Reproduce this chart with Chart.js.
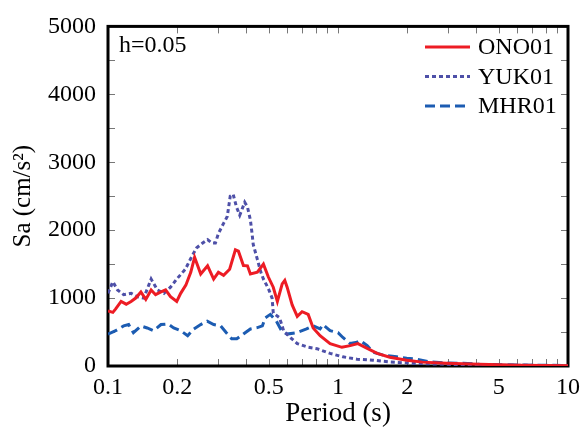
<!DOCTYPE html>
<html>
<head>
<meta charset="utf-8">
<script src="https://cdn.jsdelivr.net/npm/chart.js@4"></script>
<style>
  html, body { margin: 0; padding: 0; background: #fff; }
  #wrap { width: 587px; height: 430px; }
</style>
</head>
<body>
<div id="wrap"><canvas id="spectrum" width="587" height="430"></canvas></div>
<script>
// response spectra
const onoPeriod = [0.100, 0.105, 0.108, 0.114, 0.120, 0.126, 0.132, 0.139, 0.146, 0.154, 0.161, 0.170, 0.178, 0.187, 0.199, 0.207, 0.218, 0.229, 0.238, 0.253, 0.271, 0.288, 0.302, 0.318, 0.338, 0.358, 0.369, 0.388, 0.404, 0.416, 0.446, 0.474, 0.498, 0.523, 0.545, 0.572, 0.587, 0.601, 0.632, 0.665, 0.698, 0.742, 0.780, 0.836, 0.924, 1.04, 1.13, 1.22, 1.34, 1.48, 1.68, 1.99, 2.33, 2.96, 4.12, 6.1, 10];
const onoSa = [810, 790, 840, 950, 910, 950, 1000, 1090, 980, 1120, 1050, 1090, 1120, 1020, 950, 1070, 1190, 1380, 1600, 1355, 1475, 1280, 1380, 1335, 1425, 1710, 1690, 1480, 1475, 1355, 1380, 1500, 1310, 1160, 950, 1210, 1260, 1160, 900, 730, 800, 760, 560, 445, 330, 275, 300, 330, 260, 185, 130, 85, 57, 40, 25, 12, 5];

const yukPeriod = [0.100, 0.105, 0.110, 0.117, 0.126, 0.134, 0.143, 0.154, 0.164, 0.175, 0.187, 0.199, 0.217, 0.232, 0.243, 0.258, 0.271, 0.283, 0.293, 0.302, 0.318, 0.330, 0.340, 0.350, 0.362, 0.374, 0.393, 0.404, 0.416, 0.423, 0.428, 0.446, 0.462, 0.474, 0.498, 0.517, 0.523, 0.557, 0.580, 0.620, 0.665, 0.735, 0.81, 0.924, 1.05, 1.21, 1.42, 1.68, 2.11, 2.96, 4.12, 10];
const yukSa = [1070, 1240, 1120, 1050, 1070, 1020, 1000, 1280, 1120, 1070, 1160, 1280, 1425, 1620, 1740, 1810, 1860, 1810, 1810, 1950, 2100, 2200, 2500, 2530, 2340, 2220, 2410, 2340, 2150, 1950, 1790, 1570, 1380, 1280, 1140, 1000, 780, 710, 520, 420, 330, 280, 255, 185, 135, 100, 85, 60, 40, 25, 15, 5];

const mhrPeriod = [0.100, 0.108, 0.117, 0.123, 0.129, 0.139, 0.148, 0.158, 0.170, 0.182, 0.193, 0.207, 0.222, 0.236, 0.253, 0.270, 0.288, 0.309, 0.327, 0.345, 0.363, 0.388, 0.416, 0.446, 0.469, 0.483, 0.508, 0.540, 0.568, 0.600, 0.66, 0.73, 0.78, 0.836, 0.86, 0.924, 1.00, 1.05, 1.13, 1.21, 1.25, 1.34, 1.42, 1.57, 1.80, 1.99, 2.2, 2.5, 2.96, 3.5, 4.12, 6, 10];
const mhrSa = [470, 520, 590, 610, 490, 590, 560, 520, 610, 620, 560, 520, 445, 545, 610, 660, 610, 590, 490, 400, 400, 470, 545, 565, 590, 710, 760, 660, 520, 470, 490, 545, 590, 545, 610, 520, 490, 420, 330, 350, 375, 300, 205, 160, 135, 115, 100, 60, 45, 40, 25, 15, 8];

const seriesNames = ['ONO01', 'YUK01', 'MHR01'];
const xTickLabels = [0.1, 0.2, 0.5, 1, 2, 5, 10];
const yTickLabels = [0, 1000, 2000, 3000, 4000, 5000];
const dampingText = 'h=0.05';

const serif = "'Liberation Serif', 'DejaVu Serif', serif";

function toPoints(px, py) {
    let pts = [];
    for (let i = 0; i < px.length; i++) {
        pts.push({ x: px[i], y: py[i] });
    }
    return pts;
}

function minorLogTicks() {
    let t = [];
    for (let d = 0.1; d < 10; d *= 10) {
        for (let k = 1; k < 10; k++) {
            t.push(+(k * d).toPrecision(3));
        }
    }
    t.push(10);
    return t;
}

const frameAndTicks = {
    id: 'frameAndTicks',
    beforeDatasetsDraw(chart) {
        const ctx = chart.ctx;
        const a = chart.chartArea;
        const xs = chart.scales.x, ys = chart.scales.y;
        ctx.save();
        ctx.strokeStyle = '#777';
        ctx.lineWidth = 1;
        ctx.beginPath();
        xs.ticks.forEach(function (t) {
            let px = Math.round(xs.getPixelForValue(t.value)) + 0.5;
            ctx.moveTo(px, a.bottom); ctx.lineTo(px, a.bottom - 7);
            ctx.moveTo(px, a.top); ctx.lineTo(px, a.top + 7);
        });
        ys.ticks.forEach(function (t) {
            let py = Math.round(ys.getPixelForValue(t.value)) + 0.5;
            ctx.moveTo(a.left, py); ctx.lineTo(a.left + 7, py);
            ctx.moveTo(a.right, py); ctx.lineTo(a.right - 7, py);
        });
        ctx.stroke();
        ctx.strokeStyle = '#000';
        ctx.lineWidth = 3;
        ctx.strokeRect(a.left, a.top, a.right - a.left, a.bottom - a.top);
        ctx.restore();
    },
    afterDraw(chart) {
        const ctx = chart.ctx;
        const a = chart.chartArea;
        ctx.save();
        ctx.font = '24px ' + serif;
        ctx.fillStyle = '#000';
        ctx.textBaseline = 'middle';
        ctx.textAlign = 'left';
        ctx.fillText(dampingText, a.left + 11, 46);

        chart.data.datasets.forEach(function (ds, i) {
            let y = 47 + i * 29.5;
            ctx.strokeStyle = ds.borderColor;
            ctx.lineWidth = ds.borderWidth;
            ctx.setLineDash(ds.borderDash || []);
            ctx.beginPath();
            ctx.moveTo(425, y);
            ctx.lineTo(470, y);
            ctx.stroke();
            ctx.setLineDash([]);
            ctx.fillText(ds.label, 478, y + 1);
        });
        ctx.restore();
    }
};

function createChart(ctx) {
    return new Chart(ctx, {
        type: 'line',
        data: {
            datasets: [{
                label: seriesNames[0],
                data: toPoints(onoPeriod, onoSa),
                borderColor: 'rgb(237, 28, 36)',
                borderWidth: 3,
                pointRadius: 0,
                fill: false,
                tension: 0
            }, {
                label: seriesNames[1],
                data: toPoints(yukPeriod, yukSa),
                borderColor: 'rgb(78, 80, 168)',
                borderWidth: 3,
                borderDash: [4, 3],
                pointRadius: 0,
                fill: false,
                tension: 0
            }, {
                label: seriesNames[2],
                data: toPoints(mhrPeriod, mhrSa),
                borderColor: 'rgb(28, 92, 178)',
                borderWidth: 3,
                borderDash: [10, 5],
                pointRadius: 0,
                fill: false,
                tension: 0
            }]
        },
        options: {
            responsive: false,
            animation: false,
            layout: {
                padding: { top: 18, right: 18, left: 0, bottom: 0 }
            },
            plugins: {
                legend: { display: false },
                tooltip: { enabled: false }
            },
            scales: {
                x: {
                    type: 'logarithmic',
                    min: 0.1,
                    max: 10,
                    grid: { display: false, drawTicks: false },
                    border: { display: false },
                    afterBuildTicks: function (scale) {
                        scale.ticks = minorLogTicks().map(v => ({ value: v }));
                    },
                    afterFit: function (scale) { scale.height = 64; },
                    ticks: {
                        autoSkip: false,
                        maxRotation: 0,
                        padding: 7,
                        color: '#000',
                        font: { family: serif, size: 24 },
                        callback: function (value) {
                            return xTickLabels.some(v => Math.abs(v - value) < 1e-9) ? String(value) : '';
                        }
                    },
                    title: {
                        display: true,
                        text: 'Period (s)',
                        color: '#000',
                        font: { family: serif, size: 27 },
                        padding: { top: 0, bottom: 0 }
                    }
                },
                y: {
                    min: 0,
                    max: 5000,
                    grid: { display: false, drawTicks: false },
                    border: { display: false },
                    afterBuildTicks: function (scale) {
                        let t = [];
                        for (let v = 0; v <= 5000; v += 500) t.push({ value: v });
                        scale.ticks = t;
                    },
                    afterFit: function (scale) { scale.width = 108; },
                    ticks: {
                        autoSkip: false,
                        padding: 12,
                        color: '#000',
                        font: { family: serif, size: 24 },
                        callback: function (value) {
                            return yTickLabels.includes(value) ? String(value) : '';
                        }
                    },
                    title: {
                        display: true,
                        text: 'Sa (cm/s\u00B2)',
                        color: '#000',
                        font: { family: serif, size: 25 },
                        padding: { top: 8, bottom: 0 }
                    }
                }
            }
        },
        plugins: [frameAndTicks]
    });
}

createChart(document.getElementById('spectrum').getContext('2d'));
</script>
</body>
</html>
